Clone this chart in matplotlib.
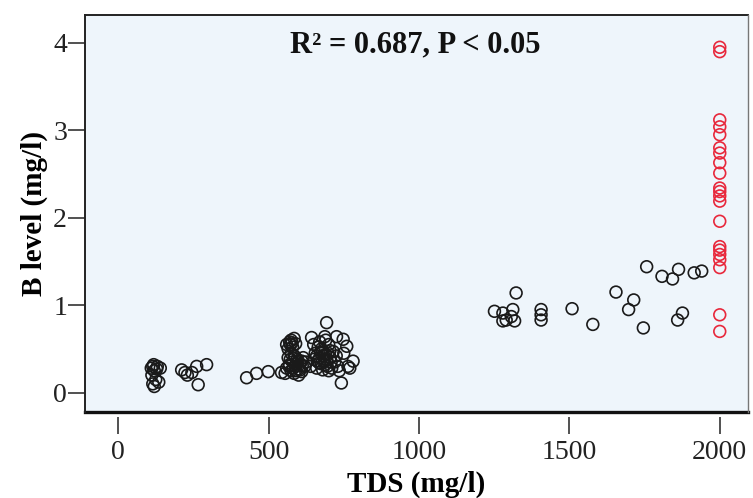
import matplotlib
matplotlib.use("Agg")
import matplotlib.pyplot as plt

# TDS (mg/l) and boron level (mg/l) of the sampled wells
tds_low = [110, 115, 120, 130, 140, 112, 125, 115, 120, 135, 118, 128,
           211, 245, 261, 294, 266, 222, 230,
           427, 460, 499, 543]
b_low = [0.28, 0.30, 0.25, 0.30, 0.28, 0.20, 0.15, 0.10, 0.07, 0.12, 0.32, 0.27,
         0.26, 0.23, 0.30, 0.32, 0.09, 0.23, 0.20,
         0.17, 0.22, 0.24, 0.23]

tds_mid = [560, 570, 575, 580, 585, 590, 595, 600, 605, 610, 615, 620, 565, 585,
           600, 555, 625, 590, 575, 610, 568, 582, 598, 612, 572, 592, 605, 588,
           560, 570, 580, 575, 590, 565, 585, 572, 578,
           640, 650, 655, 660, 665, 670, 675, 680, 685, 690, 695, 700, 705, 710,
           715, 720, 725, 730, 650, 670, 690, 700, 680, 660, 735,
           662, 672, 684, 694, 704, 676, 688, 698, 668, 708,
           643, 687, 726, 693, 742, 748, 760, 781, 764, 770, 750]
b_mid = [0.28, 0.32, 0.25, 0.35, 0.22, 0.30, 0.38, 0.27, 0.33, 0.24, 0.40, 0.30, 0.40, 0.42,
         0.20, 0.22, 0.35, 0.25, 0.45, 0.36, 0.30, 0.28, 0.36, 0.31, 0.38, 0.33, 0.26, 0.41,
         0.55, 0.58, 0.52, 0.60, 0.56, 0.50, 0.62, 0.55, 0.57,
         0.30, 0.38, 0.45, 0.28, 0.52, 0.40, 0.33, 0.48, 0.36, 0.44, 0.30, 0.55, 0.40, 0.28,
         0.47, 0.35, 0.42, 0.30, 0.55, 0.58, 0.60, 0.25, 0.26, 0.42, 0.25,
         0.36, 0.46, 0.42, 0.37, 0.48, 0.50, 0.32, 0.45, 0.34, 0.35,
         0.63, 0.64, 0.64, 0.80, 0.11, 0.61, 0.53, 0.36, 0.30, 0.28, 0.45]

tds_high = [1251, 1279, 1290, 1307, 1312, 1318, 1323, 1279,
            1406, 1406, 1406, 1509, 1578, 1655, 1714, 1697, 1746, 1860, 1876,
            1757, 1808, 1843, 1863, 1915, 1940]
b_high = [0.93, 0.91, 0.83, 0.87, 0.95, 0.82, 1.14, 0.82,
          0.95, 0.89, 0.83, 0.96, 0.78, 1.15, 1.06, 0.95, 0.74, 0.83, 0.91,
          1.44, 1.33, 1.30, 1.41, 1.37, 1.39]

# samples above 2000 mg/l, plotted at the 2000 cap
tds_cap = [2000] * 21
b_cap = [3.95, 3.90, 3.12, 3.04, 2.95, 2.80, 2.74, 2.63, 2.51, 2.34, 2.30,
         2.25, 2.19, 1.96, 1.67, 1.63, 1.58, 1.52, 1.43, 0.89, 0.70]

x_ticks = [0, 500, 1000, 1500, 2000]
y_ticks = [0, 1, 2, 3, 4]

plt.rcParams["font.family"] = ["Liberation Serif", "DejaVu Serif"]

fig = plt.figure(figsize=(7.53, 4.98), dpi=100)
ax = fig.add_axes([0.113, 0.173, 0.880, 0.797])
ax.set_facecolor("#eef5fb")

ax.scatter(tds_low + tds_mid + tds_high, b_low + b_mid + b_high, s=72,
           facecolors="none", edgecolors="#1a1a1a", linewidths=1.2, zorder=3)
ax.scatter(tds_cap, b_cap, s=72, facecolors="none", edgecolors="#e8283c",
           linewidths=1.2, zorder=3)

ax.set_xlim(-110, 2093)
ax.set_ylim(-0.22, 4.32)
ax.set_xticks(x_ticks)
ax.set_xticklabels([str(v) for v in x_ticks])
ax.set_yticks(y_ticks)
ax.set_yticklabels([str(v) for v in y_ticks])

# frame drawn by hand so the x ticks can sit slightly below it
for side in ("top", "right", "left", "bottom"):
    ax.spines[side].set_visible(False)
ax.spines["bottom"].set_position(("outward", 4))
frame = dict(transform=ax.transAxes, clip_on=False, solid_capstyle="projecting")
ax.plot([0, 1], [0, 0], color="#111111", lw=2.4, **frame)
ax.plot([0, 1], [1, 1], color="#222222", lw=1.4, **frame)
ax.plot([0, 0], [0, 1], color="#222222", lw=1.4, **frame)
ax.plot([1, 1], [0, 1], color="#777777", lw=1.0, **frame)

ax.tick_params(axis="both", direction="out", length=12, width=1.2,
               color="#333333", labelsize=20, labelcolor="#222222")
ax.tick_params(axis="x", pad=4)
ax.tick_params(axis="y", pad=1)

ax.set_xlabel("TDS (mg/l)", fontsize=21, fontweight="bold", labelpad=4)
ax.set_ylabel("B level (mg/l)", fontsize=21, fontweight="bold", labelpad=4)

ax.text(0.498, 0.924, "R² = 0.687, P < 0.05", transform=ax.transAxes,
        ha="center", va="center", fontsize=22, fontweight="bold", color="#111111")

fig.savefig("out.png", dpi=100, facecolor="white")
